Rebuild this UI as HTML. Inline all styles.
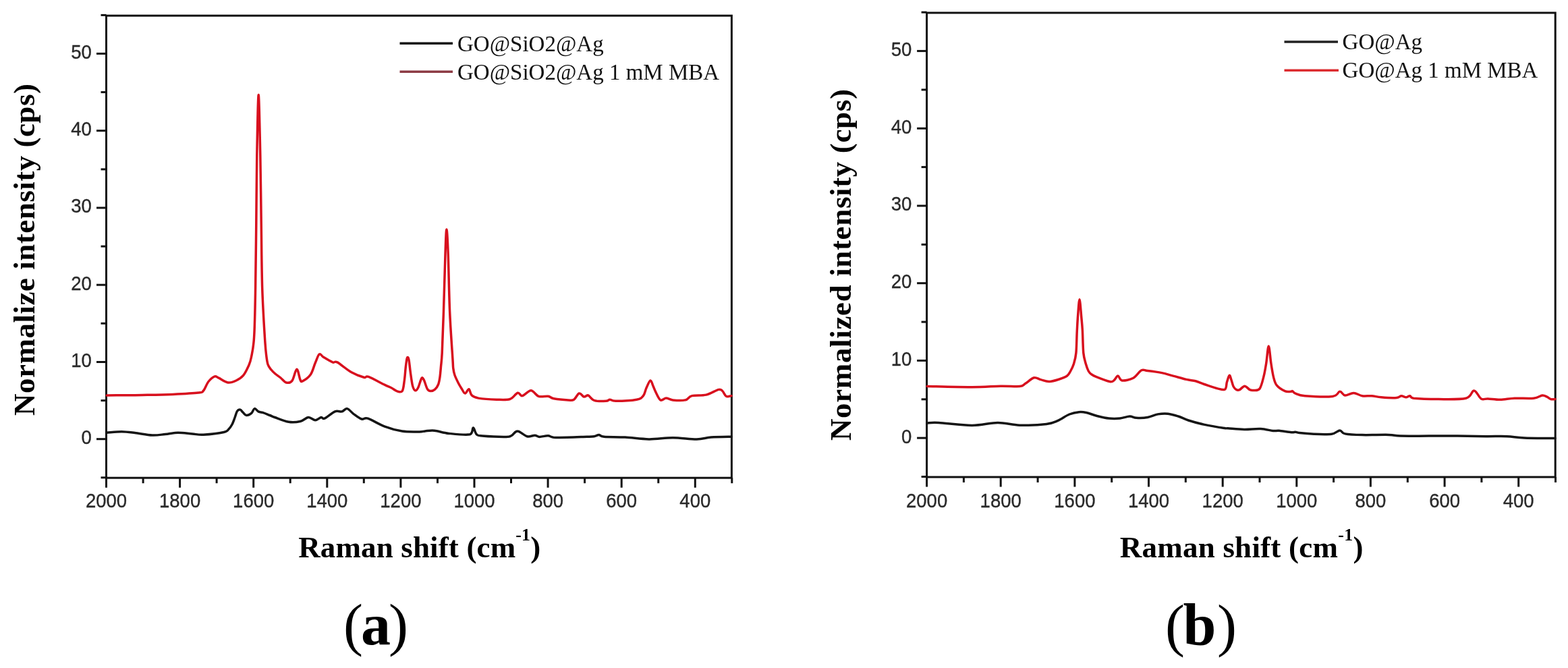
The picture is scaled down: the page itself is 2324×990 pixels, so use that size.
<!DOCTYPE html>
<html><head><meta charset="utf-8"><title>Raman spectra</title>
<style>
html,body{margin:0;padding:0;background:#fff;}
body{width:2324px;height:990px;overflow:hidden;}
svg{display:block;}
.tk{font-family:"Liberation Sans",Arial,sans-serif;font-size:29px;fill:#2a2a2a;stroke:#2a2a2a;stroke-width:0.35px;}
.ttl{font-family:"Liberation Serif","Times New Roman",serif;font-weight:bold;font-size:45px;fill:#000;}
.sup{font-family:"Liberation Serif","Times New Roman",serif;font-weight:bold;font-size:26px;fill:#000;}
.lg{font-family:"Liberation Serif","Times New Roman",serif;font-size:33px;fill:#111;}
.pl{font-family:"Liberation Serif","Times New Roman",serif;font-size:87px;fill:#000;}
.cb{fill:none;stroke:#151515;stroke-width:3.5;stroke-linejoin:round;stroke-linecap:round;}
.cr{fill:none;stroke:#d8101e;stroke-width:3.5;stroke-linejoin:round;stroke-linecap:round;}
</style></head>
<body>
<svg width="2324" height="990" viewBox="0 0 2324 990">
<rect x="157.5" y="23.2" width="926.9" height="685.0" fill="none" stroke="#111" stroke-width="3"/>
<line x1="157.5" y1="708.2" x2="157.5" y2="722.7" stroke="#111" stroke-width="3"/>
<text class="tk" text-anchor="middle" transform="translate(157.5,752.0) scale(0.95,1)">2000</text>
<line x1="212.1" y1="708.2" x2="212.1" y2="716.2" stroke="#111" stroke-width="3"/>
<line x1="266.6" y1="708.2" x2="266.6" y2="722.7" stroke="#111" stroke-width="3"/>
<text class="tk" text-anchor="middle" transform="translate(266.6,752.0) scale(0.95,1)">1800</text>
<line x1="321.1" y1="708.2" x2="321.1" y2="716.2" stroke="#111" stroke-width="3"/>
<line x1="375.7" y1="708.2" x2="375.7" y2="722.7" stroke="#111" stroke-width="3"/>
<text class="tk" text-anchor="middle" transform="translate(375.7,752.0) scale(0.95,1)">1600</text>
<line x1="430.2" y1="708.2" x2="430.2" y2="716.2" stroke="#111" stroke-width="3"/>
<line x1="484.8" y1="708.2" x2="484.8" y2="722.7" stroke="#111" stroke-width="3"/>
<text class="tk" text-anchor="middle" transform="translate(484.8,752.0) scale(0.95,1)">1400</text>
<line x1="539.3" y1="708.2" x2="539.3" y2="716.2" stroke="#111" stroke-width="3"/>
<line x1="593.9" y1="708.2" x2="593.9" y2="722.7" stroke="#111" stroke-width="3"/>
<text class="tk" text-anchor="middle" transform="translate(593.9,752.0) scale(0.95,1)">1200</text>
<line x1="648.5" y1="708.2" x2="648.5" y2="716.2" stroke="#111" stroke-width="3"/>
<line x1="703.0" y1="708.2" x2="703.0" y2="722.7" stroke="#111" stroke-width="3"/>
<text class="tk" text-anchor="middle" transform="translate(703.0,752.0) scale(0.95,1)">1000</text>
<line x1="757.5" y1="708.2" x2="757.5" y2="716.2" stroke="#111" stroke-width="3"/>
<line x1="812.1" y1="708.2" x2="812.1" y2="722.7" stroke="#111" stroke-width="3"/>
<text class="tk" text-anchor="middle" transform="translate(812.1,752.0) scale(0.95,1)">800</text>
<line x1="866.6" y1="708.2" x2="866.6" y2="716.2" stroke="#111" stroke-width="3"/>
<line x1="921.2" y1="708.2" x2="921.2" y2="722.7" stroke="#111" stroke-width="3"/>
<text class="tk" text-anchor="middle" transform="translate(921.2,752.0) scale(0.95,1)">600</text>
<line x1="975.8" y1="708.2" x2="975.8" y2="716.2" stroke="#111" stroke-width="3"/>
<line x1="1030.3" y1="708.2" x2="1030.3" y2="722.7" stroke="#111" stroke-width="3"/>
<text class="tk" text-anchor="middle" transform="translate(1030.3,752.0) scale(0.95,1)">400</text>
<line x1="1084.8" y1="708.2" x2="1084.8" y2="716.2" stroke="#111" stroke-width="3"/>
<line x1="149.5" y1="707.8" x2="157.5" y2="707.8" stroke="#111" stroke-width="3"/>
<line x1="143.0" y1="650.7" x2="157.5" y2="650.7" stroke="#111" stroke-width="3"/>
<text class="tk" text-anchor="end" transform="translate(135.8,658.1) scale(0.95,1)">0</text>
<line x1="149.5" y1="593.6" x2="157.5" y2="593.6" stroke="#111" stroke-width="3"/>
<line x1="143.0" y1="536.5" x2="157.5" y2="536.5" stroke="#111" stroke-width="3"/>
<text class="tk" text-anchor="end" transform="translate(135.8,543.9) scale(0.95,1)">10</text>
<line x1="149.5" y1="479.3" x2="157.5" y2="479.3" stroke="#111" stroke-width="3"/>
<line x1="143.0" y1="422.2" x2="157.5" y2="422.2" stroke="#111" stroke-width="3"/>
<text class="tk" text-anchor="end" transform="translate(135.8,429.6) scale(0.95,1)">20</text>
<line x1="149.5" y1="365.1" x2="157.5" y2="365.1" stroke="#111" stroke-width="3"/>
<line x1="143.0" y1="308.0" x2="157.5" y2="308.0" stroke="#111" stroke-width="3"/>
<text class="tk" text-anchor="end" transform="translate(135.8,315.4) scale(0.95,1)">30</text>
<line x1="149.5" y1="250.9" x2="157.5" y2="250.9" stroke="#111" stroke-width="3"/>
<line x1="143.0" y1="193.7" x2="157.5" y2="193.7" stroke="#111" stroke-width="3"/>
<text class="tk" text-anchor="end" transform="translate(135.8,201.1) scale(0.95,1)">40</text>
<line x1="149.5" y1="136.6" x2="157.5" y2="136.6" stroke="#111" stroke-width="3"/>
<line x1="143.0" y1="79.5" x2="157.5" y2="79.5" stroke="#111" stroke-width="3"/>
<text class="tk" text-anchor="end" transform="translate(135.8,86.9) scale(0.95,1)">50</text>
<line x1="149.5" y1="22.4" x2="157.5" y2="22.4" stroke="#111" stroke-width="3"/>
<rect x="1373.6" y="19.0" width="931.6" height="688.0" fill="none" stroke="#111" stroke-width="3"/>
<line x1="1373.6" y1="707.0" x2="1373.6" y2="721.5" stroke="#111" stroke-width="3"/>
<text class="tk" text-anchor="middle" transform="translate(1373.6,752.0) scale(0.95,1)">2000</text>
<line x1="1428.4" y1="707.0" x2="1428.4" y2="715.0" stroke="#111" stroke-width="3"/>
<line x1="1483.2" y1="707.0" x2="1483.2" y2="721.5" stroke="#111" stroke-width="3"/>
<text class="tk" text-anchor="middle" transform="translate(1483.2,752.0) scale(0.95,1)">1800</text>
<line x1="1538.1" y1="707.0" x2="1538.1" y2="715.0" stroke="#111" stroke-width="3"/>
<line x1="1592.9" y1="707.0" x2="1592.9" y2="721.5" stroke="#111" stroke-width="3"/>
<text class="tk" text-anchor="middle" transform="translate(1592.9,752.0) scale(0.95,1)">1600</text>
<line x1="1647.7" y1="707.0" x2="1647.7" y2="715.0" stroke="#111" stroke-width="3"/>
<line x1="1702.5" y1="707.0" x2="1702.5" y2="721.5" stroke="#111" stroke-width="3"/>
<text class="tk" text-anchor="middle" transform="translate(1702.5,752.0) scale(0.95,1)">1400</text>
<line x1="1757.3" y1="707.0" x2="1757.3" y2="715.0" stroke="#111" stroke-width="3"/>
<line x1="1812.2" y1="707.0" x2="1812.2" y2="721.5" stroke="#111" stroke-width="3"/>
<text class="tk" text-anchor="middle" transform="translate(1812.2,752.0) scale(0.95,1)">1200</text>
<line x1="1867.0" y1="707.0" x2="1867.0" y2="715.0" stroke="#111" stroke-width="3"/>
<line x1="1921.8" y1="707.0" x2="1921.8" y2="721.5" stroke="#111" stroke-width="3"/>
<text class="tk" text-anchor="middle" transform="translate(1921.8,752.0) scale(0.95,1)">1000</text>
<line x1="1976.6" y1="707.0" x2="1976.6" y2="715.0" stroke="#111" stroke-width="3"/>
<line x1="2031.4" y1="707.0" x2="2031.4" y2="721.5" stroke="#111" stroke-width="3"/>
<text class="tk" text-anchor="middle" transform="translate(2031.4,752.0) scale(0.95,1)">800</text>
<line x1="2086.3" y1="707.0" x2="2086.3" y2="715.0" stroke="#111" stroke-width="3"/>
<line x1="2141.1" y1="707.0" x2="2141.1" y2="721.5" stroke="#111" stroke-width="3"/>
<text class="tk" text-anchor="middle" transform="translate(2141.1,752.0) scale(0.95,1)">600</text>
<line x1="2195.9" y1="707.0" x2="2195.9" y2="715.0" stroke="#111" stroke-width="3"/>
<line x1="2250.7" y1="707.0" x2="2250.7" y2="721.5" stroke="#111" stroke-width="3"/>
<text class="tk" text-anchor="middle" transform="translate(2250.7,752.0) scale(0.95,1)">400</text>
<line x1="2305.5" y1="707.0" x2="2305.5" y2="715.0" stroke="#111" stroke-width="3"/>
<line x1="1365.6" y1="706.5" x2="1373.6" y2="706.5" stroke="#111" stroke-width="3"/>
<line x1="1359.1" y1="649.1" x2="1373.6" y2="649.1" stroke="#111" stroke-width="3"/>
<text class="tk" text-anchor="end" transform="translate(1351.3,656.5) scale(0.95,1)">0</text>
<line x1="1365.6" y1="591.8" x2="1373.6" y2="591.8" stroke="#111" stroke-width="3"/>
<line x1="1359.1" y1="534.4" x2="1373.6" y2="534.4" stroke="#111" stroke-width="3"/>
<text class="tk" text-anchor="end" transform="translate(1351.3,541.8) scale(0.95,1)">10</text>
<line x1="1365.6" y1="477.1" x2="1373.6" y2="477.1" stroke="#111" stroke-width="3"/>
<line x1="1359.1" y1="419.7" x2="1373.6" y2="419.7" stroke="#111" stroke-width="3"/>
<text class="tk" text-anchor="end" transform="translate(1351.3,427.1) scale(0.95,1)">20</text>
<line x1="1365.6" y1="362.4" x2="1373.6" y2="362.4" stroke="#111" stroke-width="3"/>
<line x1="1359.1" y1="305.0" x2="1373.6" y2="305.0" stroke="#111" stroke-width="3"/>
<text class="tk" text-anchor="end" transform="translate(1351.3,312.4) scale(0.95,1)">30</text>
<line x1="1365.6" y1="247.6" x2="1373.6" y2="247.6" stroke="#111" stroke-width="3"/>
<line x1="1359.1" y1="190.3" x2="1373.6" y2="190.3" stroke="#111" stroke-width="3"/>
<text class="tk" text-anchor="end" transform="translate(1351.3,197.7) scale(0.95,1)">40</text>
<line x1="1365.6" y1="133.0" x2="1373.6" y2="133.0" stroke="#111" stroke-width="3"/>
<line x1="1359.1" y1="75.6" x2="1373.6" y2="75.6" stroke="#111" stroke-width="3"/>
<text class="tk" text-anchor="end" transform="translate(1351.3,83.0) scale(0.95,1)">50</text>
<line x1="1365.6" y1="18.2" x2="1373.6" y2="18.2" stroke="#111" stroke-width="3"/>
<path d="M158.3,641.2 C162.0,641.0 173.4,639.7 180.3,639.7 C187.2,639.8 192.4,640.6 200.0,641.5 C207.6,642.4 218.3,644.7 225.8,645.0 C233.3,645.3 238.7,644.1 245.0,643.5 C251.3,642.9 256.9,641.3 263.6,641.2 C270.3,641.1 278.7,642.5 285.0,643.0 C291.3,643.5 293.7,644.6 301.5,644.2 C309.3,643.8 325.6,641.9 331.8,640.5 C338.1,639.1 337.0,637.9 339.0,636.0 C341.0,634.1 342.5,631.8 344.0,629.0 C345.5,626.2 346.8,622.3 348.0,619.0 C349.2,615.7 350.2,611.4 351.5,609.4 C352.8,607.4 354.6,606.8 356.0,607.1 C357.4,607.4 358.5,609.6 360.0,611.0 C361.5,612.4 363.1,615.3 365.2,615.5 C367.3,615.7 370.7,614.0 372.7,612.4 C374.7,610.8 375.5,606.0 377.3,605.6 C379.1,605.2 381.2,609.2 383.3,610.2 C385.4,611.2 387.2,610.7 390.0,611.6 C392.8,612.5 397.1,614.4 400.0,615.5 C402.9,616.6 402.6,616.9 407.2,618.5 C411.8,620.1 421.5,624.3 427.8,625.3 C434.1,626.3 440.1,625.6 445.0,624.5 C449.9,623.4 453.3,618.8 457.0,618.5 C460.7,618.2 464.2,622.8 467.3,622.8 C470.4,622.8 473.6,618.9 475.9,618.5 C478.2,618.1 477.6,621.6 481.0,620.2 C484.4,618.8 492.2,611.6 496.5,609.9 C500.8,608.2 503.8,610.6 506.8,609.9 C509.8,609.2 511.6,605.0 514.5,605.6 C517.4,606.2 520.3,610.7 523.9,613.3 C527.5,615.9 532.4,619.9 536.0,621.0 C539.6,622.1 539.7,618.3 545.4,620.2 C551.1,622.1 561.9,629.1 570.3,632.2 C578.7,635.4 587.4,637.8 596.0,639.1 C604.6,640.4 616.1,639.9 621.8,639.9 C627.5,639.9 626.3,639.2 630.0,638.9 C633.7,638.6 638.2,637.6 644.1,638.2 C650.0,638.8 656.7,641.5 665.4,642.4 C674.1,643.3 690.5,645.2 696.5,643.8 C701.4,642.4 699.8,633.9 701.4,633.9 C703.0,633.9 704.2,641.8 706.4,643.8 C708.6,645.8 707.5,645.4 714.8,646.0 C722.1,646.6 742.9,647.5 750.2,647.4 C757.5,647.3 755.9,646.6 758.7,645.2 C761.5,643.8 763.4,638.6 767.2,638.9 C771.0,639.1 777.1,645.7 781.3,646.7 C785.5,647.8 789.5,645.1 792.6,645.2 C795.7,645.3 796.4,647.3 799.7,647.4 C803.0,647.5 808.4,645.5 812.4,645.7 C816.4,645.9 814.1,648.2 823.7,648.5 C833.3,648.8 860.4,647.6 870.0,647.3 C879.6,647.0 878.3,647.1 881.3,646.6 C884.2,646.1 885.4,644.4 887.7,644.5 C890.1,644.6 888.9,646.7 895.4,647.3 C901.9,647.9 915.5,647.5 926.6,648.1 C937.7,648.7 950.1,650.8 961.9,650.9 C973.7,651.0 985.4,648.8 997.2,648.8 C1009.0,648.8 1023.2,651.0 1032.6,650.9 C1042.0,650.8 1045.2,648.7 1053.8,648.1 C1062.4,647.5 1079.0,647.4 1084.0,647.3" class="cb"/>
<path d="M158.3,585.9 C167.0,585.8 194.3,585.8 210.6,585.5 C226.9,585.2 242.1,585.0 256.0,584.4 C269.9,583.8 286.4,583.0 294.0,582.1 C301.5,581.2 299.0,581.8 301.5,579.0 C304.0,576.2 306.2,569.0 309.0,565.5 C311.8,562.0 315.7,558.8 318.2,557.9 C320.7,557.0 320.9,558.7 324.2,560.2 C327.5,561.7 333.6,566.4 337.9,567.0 C342.2,567.6 346.2,565.8 350.0,564.0 C353.8,562.2 357.6,559.9 360.6,556.4 C363.6,552.9 366.2,547.1 368.2,542.7 C370.1,538.3 370.9,537.2 372.3,530.0 C373.7,522.8 375.6,516.7 376.6,499.5 C377.7,482.3 378.1,455.1 378.6,426.9 C379.1,398.6 379.4,362.8 379.8,330.0 C380.2,297.2 380.2,261.6 380.8,230.0 C381.4,198.4 382.4,140.5 383.2,140.5 C384.0,140.5 385.1,198.4 385.8,230.0 C386.5,261.6 386.7,297.2 387.2,330.0 C387.7,362.8 387.8,398.8 388.7,427.0 C389.6,455.2 391.4,483.2 392.4,499.5 C393.4,515.8 393.7,518.2 394.5,525.0 C395.3,531.8 395.8,536.2 397.0,540.0 C398.2,543.8 400.2,545.7 402.0,548.0 C403.8,550.3 405.7,552.0 408.0,554.0 C410.3,556.0 413.3,557.8 416.0,560.0 C418.7,562.2 421.5,566.3 424.3,567.0 C427.1,567.7 430.3,567.7 432.9,564.4 C435.5,561.1 437.8,547.5 439.8,547.2 C441.8,546.9 443.6,559.8 445.0,562.7 C446.4,565.7 445.8,566.2 448.4,564.9 C451.0,563.6 457.2,559.5 460.4,555.0 C463.5,550.5 465.1,542.8 467.3,537.8 C469.5,532.8 471.3,526.3 473.3,524.9 C475.3,523.5 476.0,527.2 479.3,529.2 C482.6,531.2 489.6,535.6 493.0,536.9 C496.4,538.2 495.3,534.5 499.9,536.9 C504.5,539.3 513.9,547.8 520.5,551.5 C527.1,555.2 535.1,558.1 539.4,559.2 C543.7,560.4 541.1,556.5 546.3,558.4 C551.4,560.3 564.7,567.7 570.3,570.4 C575.9,573.1 577.0,573.3 580.0,574.8 C583.0,576.3 585.4,578.8 588.1,579.6 C590.8,580.4 594.3,582.3 596.2,579.6 C598.1,576.9 598.5,569.5 599.4,563.5 C600.3,557.5 600.7,548.8 601.4,543.3 C602.1,537.8 602.6,532.1 603.4,530.4 C604.1,528.6 605.1,529.3 605.9,532.8 C606.7,536.3 607.4,544.9 608.3,551.4 C609.2,557.9 610.3,567.0 611.5,571.6 C612.7,576.2 614.2,578.3 615.6,578.8 C617.0,579.3 618.3,577.3 619.6,574.8 C620.9,572.2 622.6,566.0 623.6,563.5 C624.6,561.0 624.9,559.8 625.7,559.8 C626.5,559.8 627.2,560.7 628.5,563.5 C629.8,566.3 631.7,573.7 633.3,576.4 C634.9,579.1 636.3,579.5 638.2,579.6 C640.1,579.7 642.7,578.8 644.6,577.2 C646.5,575.6 648.3,573.0 649.5,570.0 C650.7,567.0 651.2,563.9 651.9,559.4 C652.6,554.9 653.0,549.3 653.5,543.3 C654.0,537.2 654.5,536.8 655.2,523.1 C655.9,509.4 656.7,485.5 657.5,461.1 C658.3,436.7 659.3,396.7 660.0,376.5 C660.7,356.3 661.2,340.0 661.9,340.0 C662.6,340.0 663.4,356.3 664.2,376.5 C665.0,396.7 665.5,435.2 666.6,461.1 C667.7,487.0 670.0,517.6 670.9,531.7 C671.8,545.9 671.3,542.0 671.8,546.0 C672.3,550.0 672.7,552.3 674.0,556.0 C675.3,559.7 677.8,564.6 679.5,568.0 C681.2,571.4 682.9,574.0 684.5,576.5 C686.1,579.0 687.6,583.0 689.4,583.0 C691.1,583.0 693.4,576.2 695.0,576.7 C696.6,577.2 696.9,583.7 699.3,585.9 C701.7,588.1 703.1,589.0 709.2,590.1 C715.3,591.2 728.2,592.0 736.0,592.2 C743.8,592.4 750.6,593.1 755.8,591.5 C761.0,589.9 764.1,583.1 767.2,582.3 C770.3,581.5 770.9,587.2 774.2,586.6 C777.5,586.0 783.0,578.7 787.0,578.8 C791.0,578.9 794.1,585.9 798.3,587.3 C802.5,588.7 808.6,586.7 812.4,587.3 C816.2,587.9 815.9,589.9 820.9,590.8 C825.9,591.7 837.1,592.7 842.1,592.9 C847.1,593.1 847.9,593.9 850.6,592.2 C853.3,590.6 855.9,583.7 858.4,583.0 C860.9,582.3 863.4,587.5 865.4,588.0 C867.4,588.5 869.2,586.1 870.4,585.9 C871.6,585.7 871.0,585.3 872.8,586.6 C874.6,587.9 877.0,592.3 881.3,593.6 C885.5,594.9 894.5,594.5 898.3,594.3 C902.1,594.1 901.5,592.2 903.9,592.2 C906.2,592.2 905.8,594.3 912.4,594.3 C919.0,594.3 936.7,593.5 943.5,592.2 C950.3,590.9 951.0,589.5 953.4,586.6 C955.8,583.7 956.2,578.8 958.0,575.0 C959.8,571.2 962.3,564.4 964.0,563.9 C965.7,563.4 966.7,569.2 968.0,572.0 C969.3,574.8 970.0,577.4 971.8,580.9 C973.6,584.4 976.3,591.4 978.9,592.9 C981.5,594.4 984.2,590.1 987.3,590.1 C990.3,590.1 992.5,592.4 997.2,592.9 C1001.9,593.4 1010.9,593.9 1015.6,592.9 C1020.3,591.9 1020.3,587.9 1025.5,586.6 C1030.7,585.3 1040.1,586.6 1046.7,585.1 C1053.3,583.6 1061.1,578.3 1065.1,577.4 C1069.1,576.5 1068.9,577.9 1070.8,579.5 C1072.7,581.1 1074.2,586.1 1076.4,587.3 C1078.6,588.5 1082.7,586.7 1084.0,586.6" class="cr"/>
<path d="M1374.2,627.0 C1377.0,626.9 1380.1,625.9 1391.2,626.5 C1402.3,627.1 1426.1,630.5 1440.7,630.5 C1455.3,630.5 1467.1,626.5 1478.9,626.5 C1490.7,626.5 1499.4,629.9 1511.4,630.2 C1523.4,630.5 1541.6,629.5 1551.0,628.4 C1560.4,627.3 1562.3,625.8 1568.0,623.4 C1573.7,621.0 1579.8,616.1 1585.0,614.0 C1590.2,611.9 1594.9,611.1 1599.1,610.7 C1603.3,610.3 1605.7,610.6 1610.0,611.5 C1614.3,612.4 1619.7,614.8 1625.2,616.2 C1630.8,617.6 1637.5,619.4 1643.3,620.0 C1649.1,620.6 1654.8,620.5 1660.0,620.0 C1665.2,619.5 1670.4,617.1 1674.4,617.0 C1678.4,616.9 1679.8,619.0 1684.2,619.2 C1688.6,619.5 1695.6,619.4 1700.9,618.5 C1706.2,617.6 1711.0,614.8 1716.1,613.9 C1721.1,613.0 1726.2,612.7 1731.2,613.2 C1736.2,613.7 1741.4,615.4 1746.4,617.0 C1751.5,618.6 1755.2,621.0 1761.5,623.0 C1767.8,625.0 1775.4,627.2 1784.2,629.1 C1793.0,631.0 1808.5,633.5 1814.5,634.4 C1820.0,635.3 1815.0,634.5 1820.0,634.8 C1825.0,635.1 1836.1,636.3 1844.2,636.4 C1852.3,636.5 1861.4,635.1 1868.5,635.5 C1875.6,635.9 1882.2,638.0 1886.7,638.5 C1891.2,639.0 1891.3,637.9 1895.8,638.3 C1900.3,638.7 1909.9,640.5 1913.9,640.8 C1917.9,641.1 1918.0,640.2 1920.0,640.3 C1922.0,640.4 1921.5,641.1 1926.0,641.6 C1930.5,642.1 1939.3,643.0 1947.3,643.3 C1955.2,643.6 1967.3,644.1 1973.7,643.2 C1980.1,642.3 1982.5,638.0 1985.8,637.9 C1989.1,637.8 1988.0,641.8 1993.5,642.9 C1999.0,644.0 2008.2,644.4 2019.0,644.6 C2029.8,644.9 2049.2,644.1 2058.6,644.4 C2068.0,644.6 2065.6,645.8 2075.5,646.1 C2085.4,646.4 2103.9,646.1 2118.0,646.1 C2132.1,646.1 2145.9,645.9 2160.0,646.0 C2174.1,646.1 2190.2,646.6 2202.4,646.7 C2214.7,646.8 2224.1,646.3 2233.5,646.7 C2242.9,647.1 2247.1,648.4 2259.0,648.9 C2270.9,649.4 2297.3,649.5 2305.0,649.6" class="cb"/>
<path d="M1374.2,572.5 C1385.3,572.7 1422.6,573.8 1440.7,573.7 C1458.8,573.7 1471.3,572.4 1483.1,572.2 C1494.9,572.0 1505.3,573.1 1511.4,572.5 C1517.5,571.9 1516.4,570.4 1519.9,568.3 C1523.4,566.2 1528.8,560.8 1532.6,559.8 C1536.4,558.8 1538.7,561.6 1542.5,562.6 C1546.3,563.6 1550.6,565.6 1555.2,565.5 C1559.8,565.4 1565.7,563.4 1570.0,562.0 C1574.3,560.6 1578.6,559.2 1581.3,557.3 C1584.0,555.4 1584.7,553.5 1586.4,550.5 C1588.1,547.5 1590.0,544.1 1591.4,539.5 C1592.8,534.9 1594.1,531.2 1594.9,523.0 C1595.7,514.8 1595.8,499.2 1596.3,490.0 C1596.8,480.8 1597.0,475.7 1597.6,468.0 C1598.2,460.3 1599.2,443.7 1600.0,443.7 C1600.8,443.7 1601.9,460.3 1602.6,468.0 C1603.3,475.7 1603.9,480.8 1604.4,490.0 C1604.9,499.2 1605.0,514.8 1605.8,523.0 C1606.6,531.2 1608.2,535.0 1609.4,539.5 C1610.7,544.0 1611.9,547.4 1613.3,550.0 C1614.7,552.6 1616.0,553.6 1618.0,555.0 C1620.0,556.4 1620.7,556.9 1625.2,558.6 C1629.7,560.4 1640.5,564.6 1644.8,565.5 C1649.1,566.4 1648.9,565.3 1650.9,563.9 C1652.9,562.5 1655.0,557.1 1657.0,557.1 C1659.0,557.1 1659.2,563.4 1663.0,563.9 C1666.8,564.4 1674.9,562.7 1679.7,560.2 C1684.5,557.7 1688.3,550.6 1691.8,548.8 C1695.3,547.0 1695.9,548.9 1700.9,549.5 C1706.0,550.1 1715.8,551.3 1722.1,552.6 C1728.4,553.9 1732.7,555.5 1738.8,557.1 C1744.9,558.7 1753.0,561.1 1758.5,562.4 C1764.0,563.7 1767.8,563.6 1772.1,564.7 C1776.4,565.8 1777.1,567.1 1784.2,569.2 C1791.3,571.4 1808.8,578.1 1814.5,577.6 C1818.5,577.1 1817.2,569.5 1818.5,566.0 C1819.8,562.5 1821.0,556.9 1822.1,556.4 C1823.2,555.9 1824.0,560.2 1825.0,563.0 C1826.0,565.8 1826.9,570.6 1828.2,573.0 C1829.5,575.4 1831.2,576.8 1832.7,577.6 C1834.2,578.4 1835.3,578.5 1837.3,577.6 C1839.3,576.7 1842.3,572.3 1844.8,572.3 C1847.3,572.3 1850.3,576.6 1852.4,577.6 C1854.5,578.6 1854.9,578.8 1857.3,578.5 C1859.7,578.2 1864.4,579.5 1867.0,576.1 C1869.6,572.7 1871.4,564.2 1873.0,557.9 C1874.6,551.6 1875.5,546.0 1876.7,538.5 C1877.9,531.0 1879.1,513.0 1880.3,513.0 C1881.5,513.0 1882.7,530.8 1883.9,538.5 C1885.1,546.2 1886.2,553.6 1887.6,559.1 C1889.0,564.6 1889.6,567.8 1892.4,571.2 C1895.2,574.6 1901.1,578.2 1904.5,579.7 C1907.9,581.2 1911.2,580.3 1913.0,580.3 C1914.8,580.3 1914.3,579.2 1915.5,579.7 C1916.7,580.2 1916.9,581.9 1920.0,583.1 C1923.1,584.3 1924.9,586.0 1934.1,586.7 C1943.3,587.4 1966.5,588.5 1975.1,587.4 C1983.7,586.3 1982.7,580.5 1985.8,580.3 C1988.9,580.1 1990.1,585.6 1993.5,586.0 C1996.9,586.4 2002.0,582.3 2006.3,582.4 C2010.5,582.5 2014.5,586.0 2019.0,586.7 C2023.5,587.4 2028.4,586.4 2033.1,586.7 C2037.8,587.1 2041.2,588.3 2047.3,588.8 C2053.4,589.3 2065.0,589.9 2069.9,589.5 C2074.8,589.1 2074.7,586.8 2077.0,586.7 C2079.3,586.6 2081.9,588.8 2084.0,588.8 C2086.1,588.8 2087.8,586.5 2089.7,586.7 C2091.6,586.9 2089.7,589.4 2095.3,590.2 C2102.4,591.0 2119.2,591.6 2132.1,591.6 C2145.0,591.6 2163.9,592.3 2172.7,590.2 C2181.5,588.1 2180.9,578.8 2184.7,578.9 C2188.5,579.0 2191.9,588.9 2195.3,590.9 C2198.7,592.9 2200.5,590.7 2205.2,590.9 C2209.9,591.1 2217.0,592.4 2223.6,592.3 C2230.2,592.2 2236.6,590.6 2244.8,590.2 C2253.1,589.9 2266.3,590.9 2273.1,590.2 C2279.9,589.5 2282.5,586.4 2285.8,586.0 C2289.1,585.6 2290.8,587.2 2292.9,588.1 C2295.0,589.0 2296.6,591.0 2298.6,591.6 C2300.6,592.2 2303.9,591.6 2305.0,591.6" class="cr"/>
<!-- axis titles -->
<text class="ttl" x="442.2" y="826" textLength="359" lengthAdjust="spacing">Raman shift (cm<tspan class="sup" dy="-25">-1</tspan><tspan dy="25">)</tspan></text>
<text class="ttl" x="1659.7" y="826" textLength="360.7" lengthAdjust="spacing">Raman shift (cm<tspan class="sup" dy="-25">-1</tspan><tspan dy="25">)</tspan></text>
<text class="ttl" transform="translate(51,616) rotate(-90)" x="0" y="0" textLength="491.9" lengthAdjust="spacing">Normalize intensity (cps)</text>
<text class="ttl" transform="translate(1261,653) rotate(-90)" x="0" y="0" textLength="520.9" lengthAdjust="spacing">Normalized intensity (cps)</text>
<!-- legends -->
<line x1="592.5" y1="64.2" x2="671" y2="64.2" stroke="#111" stroke-width="3.5"/>
<line x1="592.5" y1="106.2" x2="671" y2="106.2" stroke="#8c3a44" stroke-width="3.5"/>
<text class="lg" x="678" y="76.2">GO@SiO2@Ag</text>
<text class="lg" x="678" y="118.1">GO@SiO2@Ag 1 mM MBA</text>
<line x1="1903.5" y1="62.1" x2="1983" y2="62.1" stroke="#222" stroke-width="3.5"/>
<line x1="1903.5" y1="104.2" x2="1984" y2="104.2" stroke="#dc2c30" stroke-width="3.5"/>
<text class="lg" x="1989.6" y="73">GO@Ag</text>
<text class="lg" x="1989.6" y="115.1">GO@Ag 1 mM MBA</text>
<!-- panel labels -->
<text class="pl" y="955"><tspan x="509">(</tspan><tspan x="535" font-weight="bold" font-size="88">a</tspan><tspan x="576">)</tspan></text>
<text class="pl" y="956"><tspan x="1727">(</tspan><tspan x="1753.5" font-weight="bold" font-size="88">b</tspan><tspan x="1804">)</tspan></text>
</svg>
</body></html>
